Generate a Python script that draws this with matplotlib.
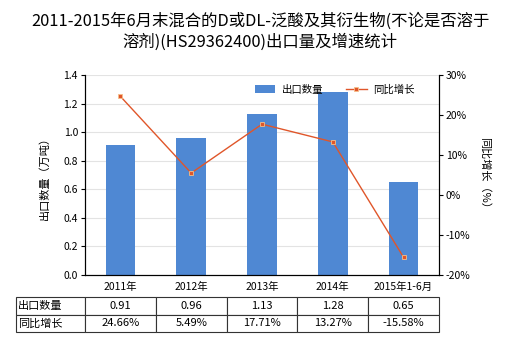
import matplotlib
matplotlib.use('Agg')
from matplotlib import pyplot as plt
from matplotlib.ticker import FuncFormatter
import numpy as np

plt.rcParams['font.family'] = ['Noto Sans CJK SC', 'DejaVu Sans']

categories = ['2011年', '2012年', '2013年', '2014年', '2015年1-6月']
export_qty = [0.91, 0.96, 1.13, 1.28, 0.65]
yoy_growth = [24.66, 5.49, 17.71, 13.27, -15.58]
qty_labels = ['0.91', '0.96', '1.13', '1.28', '0.65']
growth_labels = ['24.66%', '5.49%', '17.71%', '13.27%', '-15.58%']

title = '2011-2015年6月末混合的D或DL-泛酸及其衍生物(不论是否溶于\n溶剂)(HS29362400)出口量及增速统计'

bar_color = '#4f88d3'
line_color = '#e0562a'

fig = plt.figure(figsize=(5.2, 3.5), dpi=100)
ax = fig.add_axes([85/520, 1-275/350, 354/520, 200/350])
ax2 = ax.twinx()

x = np.arange(len(categories))
bars = ax.bar(x, export_qty, width=0.42, color=bar_color, zorder=2, label='出口数量')
ln, = ax2.plot(x, yoy_growth, color=line_color, lw=1, marker='s', ms=3.5,
               mfc=line_color, mec='#f5c08a', mew=0.6, label='同比增长')

ax.set_xlim(-0.5, len(categories)-0.5)
ax.set_ylim(0, 1.4)
ax.set_yticks(np.arange(0, 1.41, 0.2))
ax.yaxis.set_major_formatter(FuncFormatter(lambda v, p: '%.1f' % v))
ax2.set_ylim(-20, 30)
ax2.set_yticks(np.arange(-20, 31, 10))
ax2.yaxis.set_major_formatter(FuncFormatter(lambda v, p: '%d%%' % v))

ax.grid(axis='y', color='#e3e3e3', lw=0.8, zorder=0)
ax.set_axisbelow(True)
ax.set_xticks(x)
ax.set_xticklabels(categories, fontsize=7.5)
ax.tick_params(axis='x', length=0, pad=5)
ax.tick_params(axis='y', labelsize=7.5, length=3, width=0.8, pad=2)
ax2.tick_params(axis='y', labelsize=7.5, length=3, width=0.8, pad=2)

for a in (ax, ax2):
    a.spines['top'].set_visible(False)
    for s in ('left', 'right', 'bottom'):
        a.spines[s].set_linewidth(0.8)

ax.set_ylabel('出口数量（万吨）', fontsize=8, labelpad=10)
ax2.set_ylabel('同比增长（%）', fontsize=8, rotation=270, labelpad=14)

fig.text(0.5, 0.91, title, ha='center', va='center', fontsize=11.8, linespacing=1.3)

ax.legend([bars, ln], ['出口数量', '同比增长'], loc='upper center',
          bbox_to_anchor=(0.705, 1.0), ncol=2, frameon=False, fontsize=7.5,
          handlelength=2.0, columnspacing=2.2, handletextpad=0.6)

# data table under the chart
cell_text = [['出口数量'] + qty_labels, ['同比增长'] + growth_labels]
widths = np.array([69] + [70.8]*len(categories))
tbl = ax.table(cellText=cell_text, colWidths=list(widths/widths.sum()),
               cellLoc='center', bbox=[-69/354, -57/200, 423/354, 35/200])
tbl.auto_set_font_size(False)
tbl.set_fontsize(8)
for (r, c), cell in tbl.get_celld().items():
    cell.set_edgecolor('#333333')
    cell.set_linewidth(0.8)
    if c == 0:
        cell._loc = 'left'
        cell.PAD = 0.03
        cell.get_text().set_ha('left')

fig.savefig('out.png', dpi=100)
